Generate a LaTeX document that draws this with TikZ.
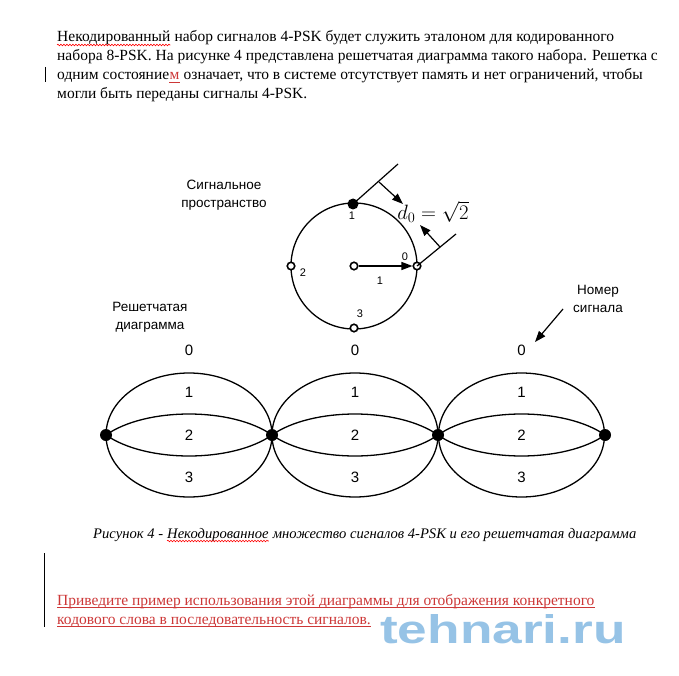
\documentclass[tikz,border=0pt]{standalone}
\usepackage{fontspec}
\setmainfont{Liberation Serif}
\setsansfont{Liberation Sans}
\usetikzlibrary{arrows.meta,decorations.pathmorphing}
\definecolor{redtxt}{RGB}{205,55,55}
\definecolor{wm}{RGB}{150,195,230}
\begin{document}
\begin{tikzpicture}[x=1pt,y=-1pt,
  txt/.style={inner sep=0pt,anchor=base west,font=\fontsize{15.5}{18}\selectfont},
  redt/.style={txt,text=redtxt},
  captxt/.style={inner sep=0pt,anchor=base west,font=\fontsize{14.6}{17}\selectfont\itshape},
  spell/.style={red,line width=0.6pt,decorate,decoration={snake,amplitude=0.8pt,segment length=3pt}},
  uline/.style={redtxt,line width=0.7pt},
  lbl/.style={inner sep=0pt,align=center,font=\sffamily\fontsize{13.5}{18}\selectfont},
  small/.style={inner sep=0pt,font=\sffamily\fontsize{11}{12}\selectfont},
  tnum/.style={inner sep=0pt,font=\sffamily\fontsize{15}{16}\selectfont},
  ring/.style={circle,draw,line width=1.6pt,fill=white,minimum size=7.5pt,inner sep=0pt},
  bigdot/.style={circle,fill,minimum size=11pt,inner sep=0pt},
  tdot/.style={circle,fill,minimum size=12pt,inner sep=0pt},
  curve/.style={line width=1.3pt},
  tip/.style={-{Triangle[length=11pt,width=8pt]}}]
\useasboundingbox[fill=white] (0,0) rectangle (679,676);

% paragraph
\node[txt] (w1) at (57,42) {Некодированный};
\node[txt] (l1) at (w1.base east) {\ набор сигналов 4-PSK будет служить эталоном для кодированного};
\draw[spell] ([yshift=-3pt]w1.base west) -- ([yshift=-3pt]w1.base east);
\node[txt] (l2) at (57,61) {набора 8-PSK. На рисунке 4 представлена решетчатая диаграмма такого набора. Решетка с};
\node[txt] (l3a) at (57,80) {одним состояние};
\node[redt] (l3m) at (l3a.base east) {м};
\draw[uline] ([yshift=-2pt]l3m.base west) -- ([yshift=-2pt]l3m.base east);
\node[txt] (l3b) at (l3m.base east) {\ означает, что в системе отсутствует память и нет ограничений, чтобы};
\node[txt] (l4) at (57,99) {могли быть переданы сигналы 4-PSK.};
\coordinate (bar1a) at (45,67); \coordinate (bar1b) at (45,82);
\draw[line width=0.8pt] (bar1a) -- (bar1b);

% signal space
\node[lbl] (sp) at (224,195) {Сигнальное\\пространство};
\node[circle,draw,line width=1.3pt,minimum size=126pt,inner sep=0pt] (C) at (354,266) {};
\node[ring] (c0) at (354,266) {};
\node[ring] (p0) at (417,266) {};
\node[bigdot] (p1) at (353,204) {};
\node[ring] (p2) at (291,266) {};
\node[ring] (p3) at (354,328) {};
\node[small] at (352,216) {1};
\node[small] at (405,257) {0};
\node[small] at (303,273) {2};
\node[small] at (360,314) {3};
\node[small] at (380,281) {1};
\draw[tip,line width=1.3pt] (c0) -- (p0);
\coordinate (e1) at (398,164);
\coordinate (e0) at (456,234);
\draw[line width=1.2pt] (p1.center) -- (e1);
\draw[line width=1.2pt] (p0.center) -- (e0);
\coordinate (a1s) at (379,182); \coordinate (a1e) at (403,204);
\coordinate (a2s) at (440,247); \coordinate (a2e) at (420,225);
\draw[tip,line width=1.2pt] (a1s) -- (a1e);
\draw[tip,line width=1.2pt] (a2s) -- (a2e);
\node[inner sep=0pt,font=\fontsize{21}{23}\selectfont] (d0) at (433,212) {$d_0=\sqrt{2}$};

% trellis labels
\node[lbl] (tl) at (150,317) {Решетчатая\\диаграмма};
\node[lbl] (nl) at (598,299) {Номер\\сигнала};
\coordinate (na) at (563,309); \coordinate (nb) at (535,342);
\draw[tip,line width=1.2pt] (na) -- (nb);

% trellis
\foreach \i/\x in {0/106,1/272,2/438,3/605}{\coordinate (t\i) at (\x,435);}
\foreach \a/\b/\m in {0/1/189,1/2/355,2/3/521.5}{
  \draw[curve] (\m,435) ellipse [x radius=83pt,y radius=62pt];
  \draw[curve] (t\a) .. controls ([xshift=40pt,yshift=28pt]t\a) and ([xshift=-40pt,yshift=28pt]t\b) .. (t\b);
  \draw[curve] (t\a) .. controls ([xshift=40pt,yshift=-28pt]t\a) and ([xshift=-40pt,yshift=-28pt]t\b) .. (t\b);
  \node[tnum] at (\m,350) {0};
  \node[tnum] at (\m,392) {1};
  \node[tnum] at (\m,435) {2};
  \node[tnum] at (\m,477) {3};
}
\foreach \i in {0,1,2,3}{\node[tdot] (T\i) at (t\i) {};}

% caption
\node[captxt] (c1) at (93,538) {Рисунок 4 -};
\node[captxt] (c2) at ([xshift=3.7pt]c1.base east) {Некодированное};
\draw[spell] ([yshift=-3pt]c2.base west) -- ([yshift=-3pt]c2.base east);
\node[captxt] (c3) at (c2.base east) {\ множество сигналов 4-PSK и его решетчатая диаграмма};

% red question
\coordinate (bar2a) at (44,553); \coordinate (bar2b) at (44,627);
\draw[line width=0.8pt] (bar2a) -- (bar2b);
\node[font=\sffamily\bfseries\fontsize{40}{40}\selectfont,text=wm,xscale=1.33,inner sep=0pt,anchor=base west] (wmk) at (380,643) {tehnari.ru};
\node[redt] (r1) at (57,605) {Приведите пример использования этой диаграммы для отображения конкретного};
\node[redt] (r2) at (57,624) {кодового слова в последовательность сигналов.};
\draw[uline] ([yshift=-2.5pt]r1.base west) -- ([yshift=-2.5pt]r1.base east);
\draw[uline] ([yshift=-2.5pt]r2.base west) -- ([yshift=-2.5pt]r2.base east);
\end{tikzpicture}
\end{document}
